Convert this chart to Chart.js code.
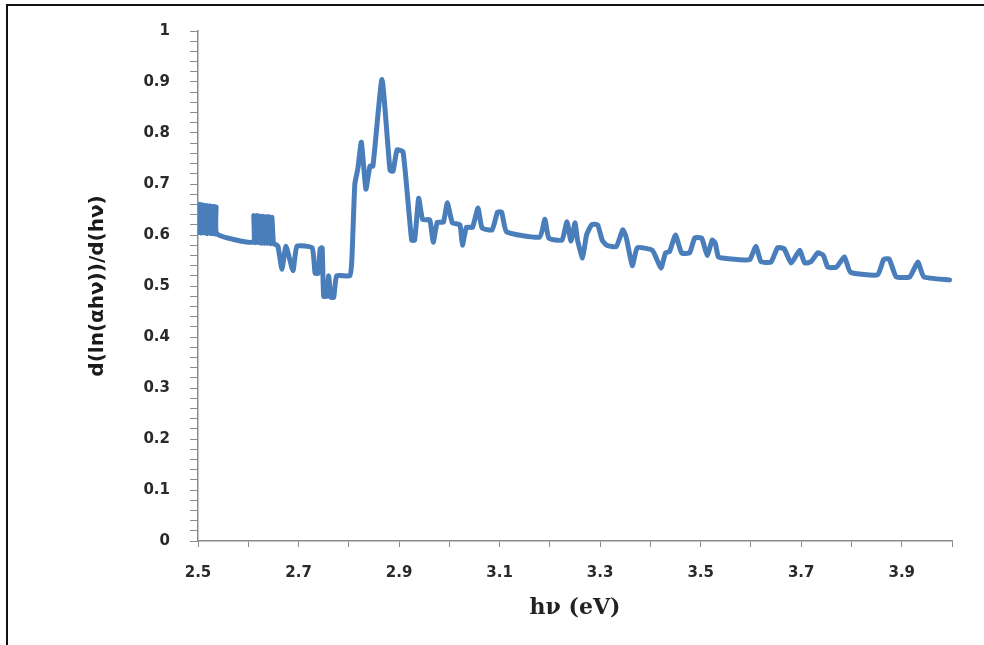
<!DOCTYPE html>
<html>
<head>
<meta charset="utf-8">
<script src="https://cdn.jsdelivr.net/npm/chart.js@4"></script>
<style>
  html, body { margin: 0; padding: 0; background: #fff; }
  #wrap { width: 984px; height: 645px; }
</style>
</head>
<body>
<div id="wrap"><canvas id="chart_dlnAlpha"></canvas></div>
<script>
// photon energy (eV)
var energy = [
  2.500, 2.502, 2.504, 2.506, 2.508, 2.510, 2.512, 2.514, 2.516, 2.518,
  2.520, 2.522, 2.524, 2.526, 2.528, 2.530, 2.532, 2.534, 2.536, 2.538,
  2.609, 2.611, 2.614, 2.617, 2.620, 2.623, 2.626, 2.629, 2.632, 2.635,
  2.638, 2.641, 2.644, 2.647, 2.650, 2.653,
  2.659, 2.667, 2.675, 2.689, 2.697, 2.727, 2.733, 2.739, 2.743, 2.747,
  2.750, 2.756, 2.760, 2.764, 2.770, 2.776, 2.802, 2.806, 2.812, 2.818,
  2.825, 2.834, 2.842, 2.848, 2.866, 2.882, 2.888, 2.896, 2.908, 2.925,
  2.931, 2.939, 2.947, 2.961, 2.968, 2.976, 2.988, 2.996, 3.006, 3.021,
  3.026, 3.034, 3.046, 3.057, 3.065, 3.085, 3.096, 3.104, 3.114, 3.180,
  3.190, 3.198, 3.224, 3.234, 3.242, 3.250, 3.255, 3.265, 3.273, 3.283,
  3.295, 3.304, 3.313, 3.332, 3.345, 3.352, 3.364, 3.374, 3.404, 3.421,
  3.430, 3.438, 3.450, 3.462, 3.478, 3.488, 3.502, 3.513, 3.523, 3.529,
  3.535, 3.543, 3.587, 3.598, 3.610, 3.620, 3.640, 3.653, 3.666, 3.680,
  3.697, 3.707, 3.720, 3.733, 3.744, 3.753, 3.770, 3.786, 3.798, 3.852,
  3.864, 3.875, 3.889, 3.916, 3.932, 3.944, 3.995
];
// d(ln(alpha*hv))/d(hv)
var slope = [
  0.655, 0.605, 0.660, 0.604, 0.659, 0.605, 0.658, 0.604, 0.658, 0.603,
  0.657, 0.604, 0.657, 0.603, 0.656, 0.603, 0.656, 0.602, 0.655, 0.602,
  0.586, 0.638, 0.585, 0.638, 0.585, 0.637, 0.584, 0.637, 0.584, 0.636,
  0.584, 0.636, 0.583, 0.635, 0.583, 0.582,
  0.578, 0.533, 0.578, 0.530, 0.578, 0.575, 0.525, 0.525, 0.573, 0.575,
  0.480, 0.480, 0.520, 0.478, 0.478, 0.520, 0.520, 0.550, 0.700, 0.730,
  0.782, 0.690, 0.735, 0.735, 0.905, 0.727, 0.725, 0.767, 0.763, 0.590,
  0.590, 0.672, 0.630, 0.630, 0.586, 0.625, 0.625, 0.663, 0.624, 0.620,
  0.580, 0.615, 0.615, 0.653, 0.614, 0.610, 0.645, 0.645, 0.606, 0.596,
  0.631, 0.594, 0.590, 0.626, 0.588, 0.624, 0.590, 0.555, 0.600, 0.620,
  0.620, 0.590, 0.580, 0.577, 0.610, 0.595, 0.540, 0.575, 0.570, 0.535,
  0.565, 0.567, 0.600, 0.565, 0.565, 0.594, 0.594, 0.560, 0.590, 0.584,
  0.557, 0.555, 0.551, 0.552, 0.578, 0.548, 0.547, 0.575, 0.573, 0.545,
  0.570, 0.545, 0.548, 0.565, 0.560, 0.537, 0.537, 0.557, 0.527, 0.522,
  0.552, 0.553, 0.518, 0.518, 0.547, 0.518, 0.512
];
var xTickLabels = ['2.5', '2.7', '2.9', '3.1', '3.3', '3.5', '3.7', '3.9'];
var yTickLabels = ['0', '0.1', '0.2', '0.3', '0.4', '0.5', '0.6', '0.7', '0.8', '0.9', '1'];

var points = energy.map(function (e, i) { return { x: e, y: slope[i] }; });
var axisGrey = '#8c8c8c';
var labelFont = { family: '"DejaVu Sans", Verdana, sans-serif', size: 15, weight: 'bold' };

var chart_dlnAlpha = new Chart(document.getElementById('chart_dlnAlpha'), {
    type: 'line',
    data: {
        datasets: [{
            label: 'slope',
            data: points,
            borderColor: '#4a7ebb',
            borderWidth: 5,
            pointRadius: 0,
            tension: 0.15,
            borderJoinStyle: 'round',
            borderCapStyle: 'round'
        }]
    },
    options: {
        animation: false,
        responsive: true,
        maintainAspectRatio: false,
        layout: { padding: { left: 82, right: 32, top: 31, bottom: 20 } },
        plugins: {
            legend: { display: false },
            tooltip: { enabled: false }
        },
        scales: {
            x: {
                type: 'linear',
                min: 2.5,
                max: 4.0,
                afterFit: function (scale) { scale.height = 84; },
                border: { color: axisGrey, width: 1.5 },
                grid: { drawOnChartArea: false, tickLength: 6, color: axisGrey, tickColor: axisGrey },
                ticks: {
                    stepSize: 0.1,
                    autoSkip: false,
                    maxRotation: 0,
                    padding: 17,
                    color: '#2a2a2a',
                    font: labelFont,
                    callback: function (v) {
                        var k = Math.round((v - 2.5) * 10);
                        return (k % 2 === 0 && k / 2 < xTickLabels.length) ? xTickLabels[k / 2] : '';
                    }
                },
                title: {
                    display: true,
                    text: 'hν (eV)',
                    color: '#222',
                    font: { family: '"DejaVu Serif", "Liberation Serif", serif', size: 22, weight: 'bold' }
                }
            },
            y: {
                min: 0,
                max: 1,
                afterFit: function (scale) { scale.width = 116; },
                border: { color: axisGrey, width: 1.5 },
                grid: { drawOnChartArea: false, tickLength: 8, color: axisGrey, tickColor: axisGrey },
                ticks: {
                    stepSize: 0.02,
                    autoSkip: false,
                    padding: 20,
                    color: '#2a2a2a',
                    font: labelFont,
                    callback: function (v) {
                        var k = Math.round(v * 50);
                        return (k % 5 === 0) ? yTickLabels[k / 5] : '';
                    }
                },
                title: {
                    display: true,
                    text: 'd(ln(αhν))/d(hν)',
                    color: '#1a1a1a',
                    font: { family: '"DejaVu Sans", Verdana, sans-serif', size: 20, weight: 'bold' }
                }
            }
        }
    },
    plugins: [{
        id: 'pageFrame',
        beforeDraw: function (chart) {
            var ctx = chart.ctx;
            ctx.save();
            ctx.fillStyle = 'white';
            ctx.fillRect(0, 0, chart.width, chart.height);
            ctx.strokeStyle = '#111';
            ctx.lineWidth = 2;
            ctx.beginPath();
            ctx.moveTo(7, chart.height);
            ctx.lineTo(7, 5);
            ctx.lineTo(chart.width, 5);
            ctx.stroke();
            ctx.restore();
        }
    }]
});
</script>
</body>
</html>
